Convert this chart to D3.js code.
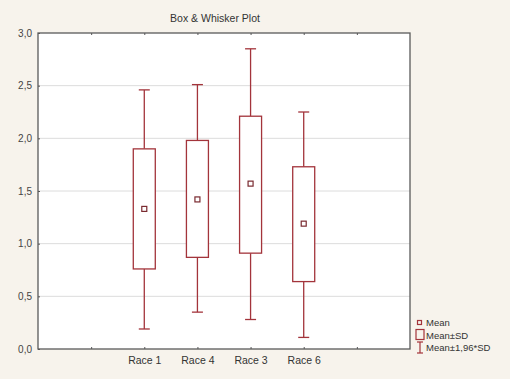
<!DOCTYPE html>
<html>
<head>
<meta charset="utf-8">
<script src="https://cdn.jsdelivr.net/npm/d3@7"></script>
<style>
  body { margin: 0; background: #f7f3ec; }
  svg { display: block; font-family: "Liberation Sans", Arial, sans-serif; }
</style>
</head>
<body>
<div id="graph"></div>
<script>
const categories = ["Race 1", "Race 4", "Race 3", "Race 6"];
const means = [1.33, 1.42, 1.57, 1.19];
const sdLow = [0.76, 0.87, 0.91, 0.64];
const sdHigh = [1.90, 1.98, 2.21, 1.73];
const ciLow = [0.19, 0.35, 0.28, 0.11];
const ciHigh = [2.46, 2.51, 2.85, 2.25];
const yTicks = [0, 0.5, 1, 1.5, 2, 2.5, 3];
const legendLabels = ["Mean", "Mean±SD", "Mean±1,96*SD"];

const width = 510, height = 379;
const margin = {left: 38, right: 100, top: 33, bottom: 30};
const red = "#a3343b";

const svg = d3.select("#graph").append("svg").attr("width", width).attr("height", height);
svg.append("rect").attr("width", width).attr("height", height).attr("fill", "#f7f3ec");

// categories sit at slots 2..5 of 7
const xScale = d3.scaleLinear().domain([0, 7]).range([margin.left, width - margin.right]);
const yScale = d3.scaleLinear().domain([0, 3]).range([height - margin.bottom, margin.top]);
const slot = (i) => xScale(i + 2);

svg.append("rect")
  .attr("x", xScale(0)).attr("y", yScale(3))
  .attr("width", xScale(7) - xScale(0)).attr("height", yScale(0) - yScale(3))
  .attr("fill", "#ffffff");

// grid
svg.append("g").selectAll("line").data(yTicks.slice(1, -1)).enter().append("line")
  .attr("x1", xScale(0)).attr("x2", xScale(7))
  .attr("y1", (d) => yScale(d)).attr("y2", (d) => yScale(d))
  .attr("stroke", "#dcdcdc").attr("stroke-width", 1);

const fmt = (d) => d3.format(".1f")(d).replace(".", ",");
const yAxis = d3.axisLeft(yScale).tickValues(yTicks).tickFormat(fmt).tickSize(-2).tickPadding(6);
const gy = svg.append("g").attr("transform", "translate(" + xScale(0) + ",0)").call(yAxis);
gy.select(".domain").remove();
gy.selectAll("text").attr("font-size", 10).attr("fill", "#444").attr("font-family", "Liberation Sans, Arial, sans-serif");
gy.selectAll("line").attr("stroke", "#555");

const xAxis = d3.axisBottom(xScale).tickValues([1, 2, 3, 4, 5, 6])
  .tickFormat((d) => categories[d - 2] || "").tickSize(-2).tickPadding(8);
const gx = svg.append("g").attr("transform", "translate(0," + yScale(0) + ")").call(xAxis);
gx.select(".domain").remove();
gx.selectAll("text").attr("font-size", 10.5).attr("fill", "#333").attr("font-family", "Liberation Sans, Arial, sans-serif");
gx.selectAll("line").attr("stroke", "#555");

const xTop = d3.axisTop(xScale).tickValues([1, 2, 3, 4, 5, 6]).tickFormat("").tickSize(-2);
const gt = svg.append("g").attr("transform", "translate(0," + yScale(3) + ")").call(xTop);
gt.select(".domain").remove();
gt.selectAll("line").attr("stroke", "#555");

// frame
svg.append("rect")
  .attr("x", xScale(0)).attr("y", yScale(3))
  .attr("width", xScale(7) - xScale(0)).attr("height", yScale(0) - yScale(3))
  .attr("fill", "none").attr("stroke", "#5a5a5a").attr("stroke-width", 1.3);

// boxes
const boxW = 22, capW = 11, meanS = 5;
const groups = svg.append("g").selectAll("g").data(categories).enter().append("g");
groups.append("line")
  .attr("x1", (d, i) => slot(i)).attr("x2", (d, i) => slot(i))
  .attr("y1", (d, i) => yScale(ciHigh[i])).attr("y2", (d, i) => yScale(sdHigh[i]))
  .attr("stroke", red).attr("stroke-width", 1.3);
groups.append("line")
  .attr("x1", (d, i) => slot(i)).attr("x2", (d, i) => slot(i))
  .attr("y1", (d, i) => yScale(sdLow[i])).attr("y2", (d, i) => yScale(ciLow[i]))
  .attr("stroke", red).attr("stroke-width", 1.3);
groups.append("line")
  .attr("x1", (d, i) => slot(i) - capW / 2).attr("x2", (d, i) => slot(i) + capW / 2)
  .attr("y1", (d, i) => yScale(ciHigh[i])).attr("y2", (d, i) => yScale(ciHigh[i]))
  .attr("stroke", red).attr("stroke-width", 1.3);
groups.append("line")
  .attr("x1", (d, i) => slot(i) - capW / 2).attr("x2", (d, i) => slot(i) + capW / 2)
  .attr("y1", (d, i) => yScale(ciLow[i])).attr("y2", (d, i) => yScale(ciLow[i]))
  .attr("stroke", red).attr("stroke-width", 1.3);
groups.append("rect")
  .attr("x", (d, i) => slot(i) - boxW / 2).attr("width", boxW)
  .attr("y", (d, i) => yScale(sdHigh[i])).attr("height", (d, i) => yScale(sdLow[i]) - yScale(sdHigh[i]))
  .attr("fill", "#ffffff").attr("stroke", red).attr("stroke-width", 1.3);
groups.append("rect")
  .attr("x", (d, i) => slot(i) - meanS / 2).attr("width", meanS)
  .attr("y", (d, i) => yScale(means[i]) - meanS / 2).attr("height", meanS)
  .attr("fill", "#ffffff").attr("stroke", "#7a2a30").attr("stroke-width", 1.2);

// title
svg.append("text").attr("x", 215).attr("y", 22).attr("text-anchor", "middle")
  .attr("font-size", 10.5).attr("fill", "#333").text("Box & Whisker Plot");

// legend
const lg = svg.append("g").attr("transform", "translate(416,0)");
lg.append("rect").attr("x", 1.5).attr("y", 320.5).attr("width", 4).attr("height", 4)
  .attr("fill", "none").attr("stroke", red).attr("stroke-width", 1.2);
lg.append("rect").attr("x", 0).attr("y", 329.5).attr("width", 8).attr("height", 10)
  .attr("fill", "none").attr("stroke", red).attr("stroke-width", 1.2);
lg.append("line").attr("x1", 4).attr("x2", 4).attr("y1", 342).attr("y2", 353).attr("stroke", red).attr("stroke-width", 1.2);
lg.append("line").attr("x1", 1).attr("x2", 7).attr("y1", 342).attr("y2", 342).attr("stroke", red).attr("stroke-width", 1.2);
lg.append("line").attr("x1", 1).attr("x2", 7).attr("y1", 353).attr("y2", 353).attr("stroke", red).attr("stroke-width", 1.2);
lg.selectAll("text.lab").data(legendLabels).enter().append("text").attr("class", "lab")
  .attr("x", 10).attr("y", (d, i) => 326 + i * 12.5)
  .attr("font-size", 9.5).attr("fill", "#333").text((d) => d);
</script>
</body>
</html>
